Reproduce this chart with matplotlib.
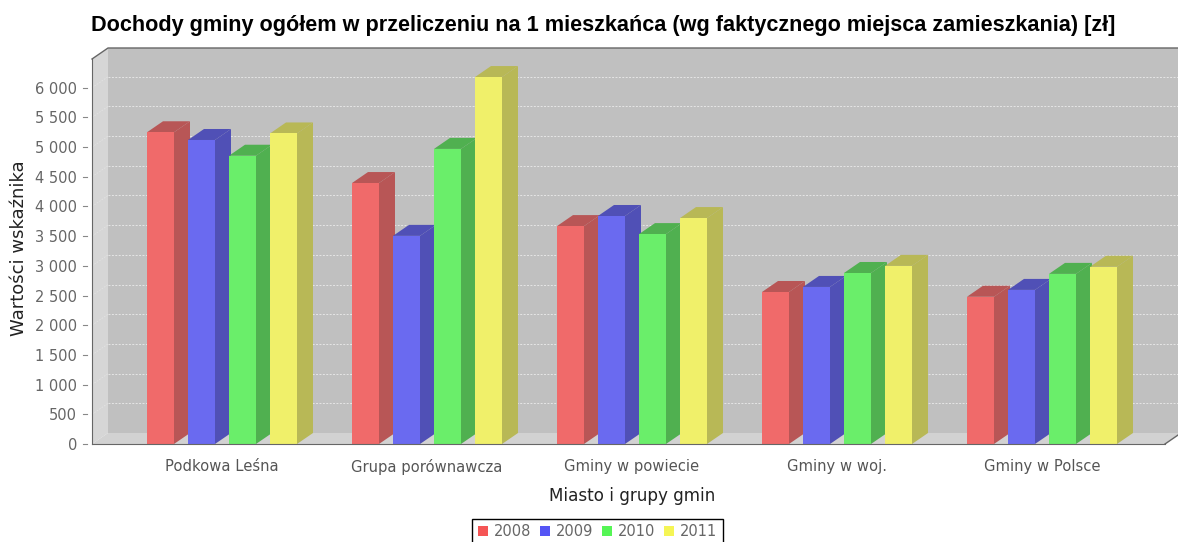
import matplotlib
matplotlib.use('Agg')
import matplotlib.pyplot as plt
from matplotlib.patches import Polygon, Patch

categories = ['Podkowa Leśna', 'Grupa porównawcza', 'Gminy w powiecie', 'Gminy w woj.', 'Gminy w Polsce']
years = ['2008', '2009', '2010', '2011']
v2008 = [5250, 4395, 3670, 2560, 2480]
v2009 = [5120, 3505, 3840, 2645, 2595]
v2010 = [4855, 4970, 3535, 2880, 2865]
v2011 = [5230, 6180, 3805, 3000, 2985]
series = [v2008, v2009, v2010, v2011]
yticks = [0, 500, 1000, 1500, 2000, 2500, 3000, 3500, 4000, 4500, 5000, 5500, 6000]
yticklabels = ['0', '500', '1 000', '1 500', '2 000', '2 500', '3 000', '3 500', '4 000', '4 500', '5 000', '5 500', '6 000']

front = ['#F06A6A', '#6A6AF0', '#6AEE6A', '#F0F06A']
shade = ['#B85656', '#5050B6', '#50B050', '#B8B856']
legend_colors = ['#F55555', '#5555F5', '#55F555', '#F5F555']

W, H = 1178, 542
fig = plt.figure(figsize=(W / 100, H / 100), dpi=100, facecolor='white')
ax = fig.add_axes([92 / W, (H - 444) / H, (1165 - 92) / W, (444 - 59) / H])
ax.patch.set_visible(False)

# 205 px per category, first category centred on x=222
ax.set_xlim((92 - 222) / 205, (1165 - 222) / 205)
ax.set_ylim(0, 6484)
dx = 16 / 205
dy = 11 / 0.05938
x0, x1 = ax.get_xlim()
ymax = ax.get_ylim()[1]
bar_w = 27 / 205
step = 41 / 205


def poly(points, color, z):
    ax.add_patch(Polygon(points, closed=True, facecolor=color, edgecolor='none', clip_on=False, zorder=z))


# back wall, left wall, floor
poly([(x0 + dx, dy), (x1 + dx, dy), (x1 + dx, ymax + dy), (x0 + dx, ymax + dy)], '#C0C0C0', 1)
poly([(x0, 0), (x0 + dx, dy), (x0 + dx, ymax + dy), (x0, ymax)], '#D6D6D6', 1)
poly([(x0, 0), (x1, 0), (x1 + dx, dy), (x0 + dx, dy)], '#D2D2D2', 1)

for t in yticks[1:]:
    ax.plot([x0 + dx, x1 + dx], [t + dy, t + dy], color='#E6E6E6', lw=0.7, ls=(0, (2, 1.5)), clip_on=False, zorder=2)
    ax.plot([x0, x0 + dx], [t, t + dy], color='#E2E2E2', lw=0.6, ls=(0, (2, 1.5)), clip_on=False, zorder=2)
    
# tick marks stand a little away from the axis line
for t in yticks:
    ax.plot([x0 - 9 / 205, x0 - 5 / 205], [t, t], color='#888888', lw=0.8, clip_on=False, zorder=2)

ax.plot([x0, x0 + dx, x1 + dx], [ymax, ymax + dy, ymax + dy], color='#666666', lw=1.0, clip_on=False, zorder=2)
ax.plot([x1, x1 + dx], [0, dy], color='#666666', lw=1.0, clip_on=False, zorder=2)

z = 3
for c in range(len(categories)):
    for s in range(len(series)):
        val = series[s][c]
        left = c + (s - 1.5) * step - bar_w / 2
        right = left + bar_w
        poly([(right, 0), (right + dx, dy), (right + dx, val + dy), (right, val)], shade[s], z)
        poly([(left, val), (right, val), (right + dx, val + dy), (left + dx, val + dy)], shade[s], z)
        poly([(left, 0), (right, 0), (right, val), (left, val)], front[s], z + 0.5)
        z += 1

ax.set_yticks(yticks)
ax.set_yticklabels(yticklabels, fontsize=10.5, color='#666666', family='DejaVu Sans')
ax.set_xticks(range(len(categories)))
ax.set_xticklabels(categories, fontsize=10.6, color='#555555', family='DejaVu Sans')
ax.tick_params(axis='y', length=0, pad=10.8)
ax.tick_params(axis='x', length=0, pad=11)
for side in ['top', 'right']:
    ax.spines[side].set_visible(False)
ax.spines['left'].set_color('#666666')
ax.spines['bottom'].set_color('#666666')
ax.spines['left'].set_zorder(2)
ax.spines['bottom'].set_zorder(100)

fig.text(91 / W, 1 - 25 / H, 'Dochody gminy ogółem w przeliczeniu na 1 mieszkańca (wg faktycznego miejsca zamieszkania) [zł]',
         fontsize=15.55, fontweight='bold', family='Liberation Sans', color='black', ha='left', va='center')
fig.text(19 / W, 1 - 248 / H, 'Wartości wskaźnika', fontsize=13, color='#222222', rotation=90, ha='center', va='center')
fig.text(632 / W, 1 - 496 / H, 'Miasto i grupy gmin', fontsize=12.1, color='#222222', ha='center', va='center')

handles = [Patch(facecolor=legend_colors[i], edgecolor='none', label=years[i]) for i in range(len(years))]
leg = fig.legend(handles=handles, loc='center', bbox_to_anchor=(597.5 / W, 1 - 532 / H), ncol=4, fontsize=10.5, frameon=True,
                 fancybox=False, edgecolor='black', framealpha=1, handlelength=0.69, handleheight=0.69,
                 handletextpad=0.4, columnspacing=0.6, borderpad=0.4, labelcolor='#666666')
leg.get_frame().set_linewidth(1.0)

fig.savefig('out.png', dpi=100)
